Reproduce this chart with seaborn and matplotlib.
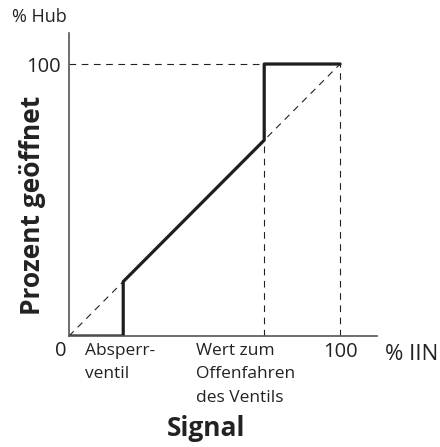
import matplotlib
matplotlib.use("Agg")
import matplotlib.pyplot as plt
import seaborn as sns
import pandas as pd

# Data
curve_x = [0, 20, 20, 72, 72, 100]
curve_y = [0, 0, 20, 72, 100, 100]
diag_x = [0, 100]
diag_y = [0, 100]
hline_x = [0, 100]
hline_y = [100, 100]
vline1_x = [72, 72]
vline1_y = [0, 72]
vline2_x = [100, 100]
vline2_y = [0, 100]

x_labels = ["Absperr-\nventil", "Wert zum\nOffenfahren\ndes Ventils"]
x_label_pos = [6, 47]

sns.set_theme(style="white")
plt.rcParams['font.family'] = ['Open Sans', 'DejaVu Sans']

fig = plt.figure(figsize=(4.4, 4.47), dpi=100)
ax = fig.add_axes([69/440, (447-336)/447, (377-69)/440, (336-33)/447])

dash_kw = dict(color="#222222", linewidth=0.8, dashes=(6, 5), legend=False,
               estimator=None, sort=False)
for xs, ys in [(diag_x, diag_y), (hline_x, hline_y), (vline1_x, vline1_y), (vline2_x, vline2_y)]:
    df = pd.DataFrame({"x": xs, "y": ys})
    sns.lineplot(data=df, x="x", y="y", ax=ax, **dash_kw)

df = pd.DataFrame({"x": curve_x, "y": curve_y})
sns.lineplot(data=df, x="x", y="y", sort=False, estimator=None, ax=ax,
             color="#1e1e1e", linewidth=2.3, legend=False)

ax.set_xlim(0, 113.6)
ax.set_ylim(0, 111.4)
for s in ["top", "right"]:
    ax.spines[s].set_visible(False)
for s in ["left", "bottom"]:
    ax.spines[s].set_color("#555555")
    ax.spines[s].set_linewidth(1.2)

ax.set_xticks([100])
ax.set_xticklabels(["100"], fontsize=14.5, color="#222222")
ax.set_yticks([100])
ax.set_yticklabels(["100"], fontsize=14.5, color="#222222")
ax.tick_params(axis="x", length=0, pad=4)
ax.tick_params(axis="y", length=0, pad=6)
ax.set_xlabel("")
ax.set_ylabel("")

tr = ax.get_xaxis_transform()
for lab, xp in zip(x_labels, x_label_pos):
    ax.text(xp, -0.022, lab, transform=tr, ha="left", va="top", fontsize=12.5,
            color="#222222", linespacing=1.65)

fig.text(61/440, 1-351/447, "0", ha="center", va="center", fontsize=14.5, color="#222222")
fig.text(385/440, 1-354/447, "% IIN", ha="left", va="center", fontsize=16, color="#222222")
fig.text(12/440, 1-17/447, "% Hub", ha="left", va="center", fontsize=13, color="#222222")
fig.text(206/440, 1-428/447, "Signal", ha="center", va="center", fontsize=19,
         fontweight="bold", color="#222222")
fig.text(33/440, 1-205/447, "Prozent geöffnet", ha="center", va="center", fontsize=19,
         fontweight="bold", color="#222222", rotation=90)

fig.savefig("out.png", dpi=100)
